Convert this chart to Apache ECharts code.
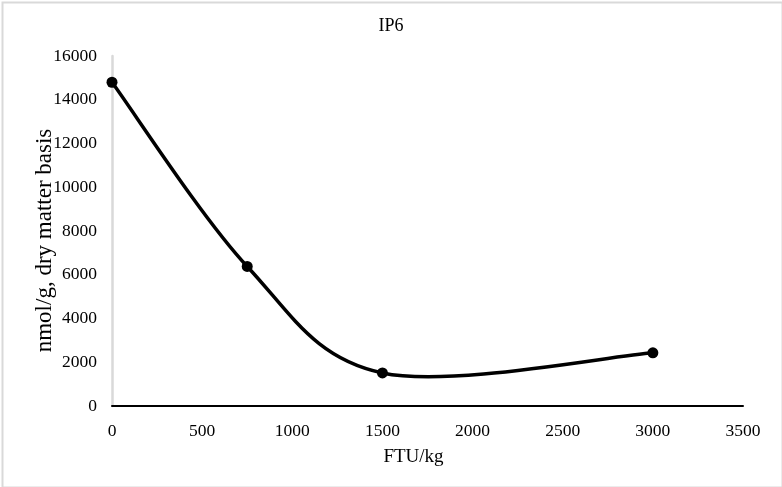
<!DOCTYPE html>
<html>
<head>
<meta charset="utf-8">
<script src="https://cdn.jsdelivr.net/npm/echarts@6/dist/echarts.min.js"></script>
<style>
html,body{margin:0;padding:0;background:#fff;}
#c{width:782px;height:487px;}
</style>
</head>
<body>
<div id="c"></div>
<script>
const xValues = [0, 750, 1500, 3000];
const yValues = [14800, 6380, 1510, 2430];
const xTicks = {min: 0, max: 3500, interval: 500};
const yTicks = {min: 0, max: 16000, interval: 2000};
const chartTitle = 'IP6';
const xName = 'FTU/kg';
const yName = 'nmol/g, dry matter basis';

const font = '"Liberation Serif", "Times New Roman", serif';
const points = xValues.map((x, i) => [x, yValues[i]]);
const n = points.length;

// Excel-style smoothed line: Catmull-Rom spline (tension 1/6) drawn as bezier segments
function renderSegment(params, api) {
  const i = params.dataIndex;
  if (i >= n - 1) return null;
  const clamp = j => Math.max(0, Math.min(n - 1, j));
  const P = j => api.coord(points[clamp(j)]);
  const p0 = P(i - 1), p1 = P(i), p2 = P(i + 1), p3 = P(i + 2);
  return {
    type: 'bezierCurve',
    shape: {
      x1: p1[0], y1: p1[1], x2: p2[0], y2: p2[1],
      cpx1: p1[0] + (p2[0] - p0[0]) / 6, cpy1: p1[1] + (p2[1] - p0[1]) / 6,
      cpx2: p2[0] - (p3[0] - p1[0]) / 6, cpy2: p2[1] - (p3[1] - p1[1]) / 6
    },
    style: {stroke: '#000', lineWidth: 3.5, fill: 'none', lineCap: 'round'}
  };
}

const chart = echarts.init(document.getElementById('c'));
chart.setOption({
  backgroundColor: '#fff',
  animation: false,
  title: {
    text: chartTitle, left: 'center', top: 12,
    textStyle: {fontFamily: font, fontSize: 18, fontWeight: 'normal', color: '#000'}
  },
  graphic: [{
    type: 'rect', left: 0, top: 0,
    shape: {x: 1, y: 1, width: 780, height: 485},
    style: {fill: 'none', stroke: '#d9d9d9', lineWidth: 2}
  }],
  grid: {left: 112, right: 39, top: 56, bottom: 81},
  xAxis: {
    type: 'value', min: xTicks.min, max: xTicks.max, interval: xTicks.interval,
    name: xName, nameLocation: 'middle', nameGap: 42, nameMoveOverlap: false,
    nameTextStyle: {fontFamily: font, fontSize: 19, color: '#000', padding: [0, 28, 0, 0]},
    axisLine: {show: true, onZero: false, lineStyle: {color: '#000', width: 2}},
    axisTick: {show: false},
    splitLine: {show: false},
    axisLabel: {fontFamily: font, fontSize: 17.5, color: '#000', margin: 16, formatter: v => String(v)}
  },
  yAxis: {
    type: 'value', min: yTicks.min, max: yTicks.max, interval: yTicks.interval,
    name: yName, nameLocation: 'middle', nameGap: 56, nameMoveOverlap: false,
    nameTextStyle: {fontFamily: font, fontSize: 23, color: '#000', padding: [0, 19, 0, 0]},
    axisLine: {show: true, lineStyle: {color: '#d9d9d9', width: 2.5}},
    axisTick: {show: false},
    splitLine: {show: false},
    axisLabel: {fontFamily: font, fontSize: 17.5, color: '#000', margin: 15, formatter: v => String(v)}
  },
  series: [{
    type: 'custom',
    renderItem: renderSegment,
    data: points,
    encode: {x: 0, y: 1},
    z: 2
  }, {
    type: 'scatter',
    data: points,
    symbol: 'circle', symbolSize: 11,
    itemStyle: {color: '#000', opacity: 1},
    z: 3
  }]
});
</script>
</body>
</html>
